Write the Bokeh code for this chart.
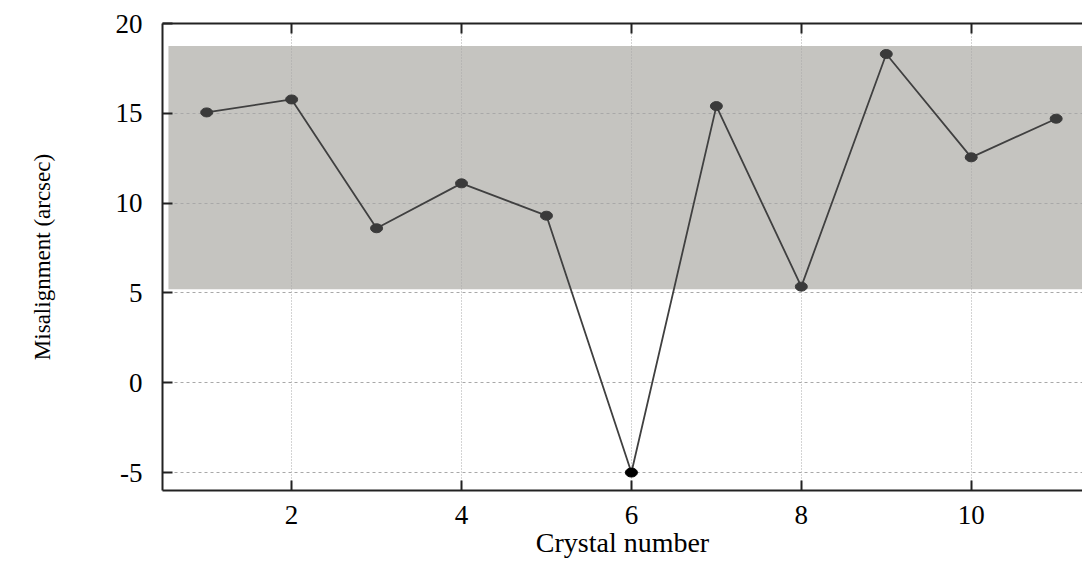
from bokeh.plotting import figure
from bokeh.models import LinearAxis, Range1d, FixedTicker, CustomJSTickFormatter
from bokeh.embed import file_html
from bokeh.resources import INLINE

crystal = [1, 2, 3, 4, 5, 6, 7, 8, 9, 10, 11]
misalignment = [15.05, 15.77, 8.6, 11.1, 9.3, -5.0, 15.4, 5.35, 18.3, 12.55, 14.7]
band_low, band_high = 5.2, 18.75
band_x0, band_x1 = 0.55, 11.5
x_ticks = [2, 4, 6, 8, 10]
y_ticks = [-5, 0, 5, 10, 15, 20]

SERIF = "Liberation Serif"

p = figure(width=1082, height=570, output_backend="svg", toolbar_location=None,
           x_range=Range1d(0.48, 11.31), y_range=Range1d(-6, 20),
           min_border_left=162, min_border_right=0, min_border_top=23, min_border_bottom=80)
p.outline_line_color = None
p.background_fill_color = "white"

# shaded band (below grid)
p.quad(left=[band_x0], right=[band_x1], bottom=[band_low], top=[band_high],
       fill_color="#c5c4c0", line_color=None, level="image")

plain = CustomJSTickFormatter(code="return tick.toString();")
for ax in (p.xaxis[0], p.yaxis[0]):
    ax.formatter = plain
    ax.axis_line_width = 2
    ax.axis_line_color = "#222222"
    ax.major_tick_in = 10
    ax.major_tick_out = 0
    ax.major_tick_line_width = 2
    ax.major_tick_line_color = "#222222"
    ax.minor_tick_line_color = None
    ax.major_label_text_font = SERIF
    ax.major_label_text_font_size = "27px"
    ax.major_label_text_color = "black"
    ax.axis_label_text_font = SERIF
    ax.axis_label_text_font_style = "normal"
    ax.axis_label_text_color = "black"

p.xaxis.ticker = FixedTicker(ticks=x_ticks)
p.yaxis.ticker = FixedTicker(ticks=y_ticks)
p.xaxis.axis_label = "Crystal number"
p.xaxis.axis_label_text_font_size = "28px"
p.xaxis.major_label_standoff = 15
p.xaxis.axis_label_standoff = 0
p.yaxis.axis_label = "Misalignment (arcsec)"
p.yaxis.axis_label_text_font_size = "23px"
p.yaxis.major_label_standoff = 20
p.yaxis.axis_label_standoff = 58

top_axis = LinearAxis(ticker=FixedTicker(ticks=x_ticks), axis_line_width=2, axis_line_color="#222222",
                      major_tick_in=10, major_tick_out=0, major_tick_line_width=2,
                      major_tick_line_color="#222222", minor_tick_line_color=None,
                      formatter=CustomJSTickFormatter(code="return '';"),
                      major_label_standoff=0)
p.add_layout(top_axis, "above")

p.xgrid.grid_line_color = "#a8a8a8"
p.xgrid.grid_line_dash = "1 2"
p.xgrid.grid_line_width = 1
p.ygrid.grid_line_color = "#a8a8a8"
p.ygrid.grid_line_dash = "3 3"
p.ygrid.grid_line_width = 1

p.line(crystal, misalignment, line_color="#404040", line_width=1.8)
colors = ["black" if v == min(misalignment) else "#3a3a3a" for v in misalignment]
p.ellipse(x=crystal, y=misalignment, width=12, height=9, width_units="screen",
          height_units="screen", fill_color=colors, line_color=colors)

open("out.html", "w").write(file_html(p, INLINE))
